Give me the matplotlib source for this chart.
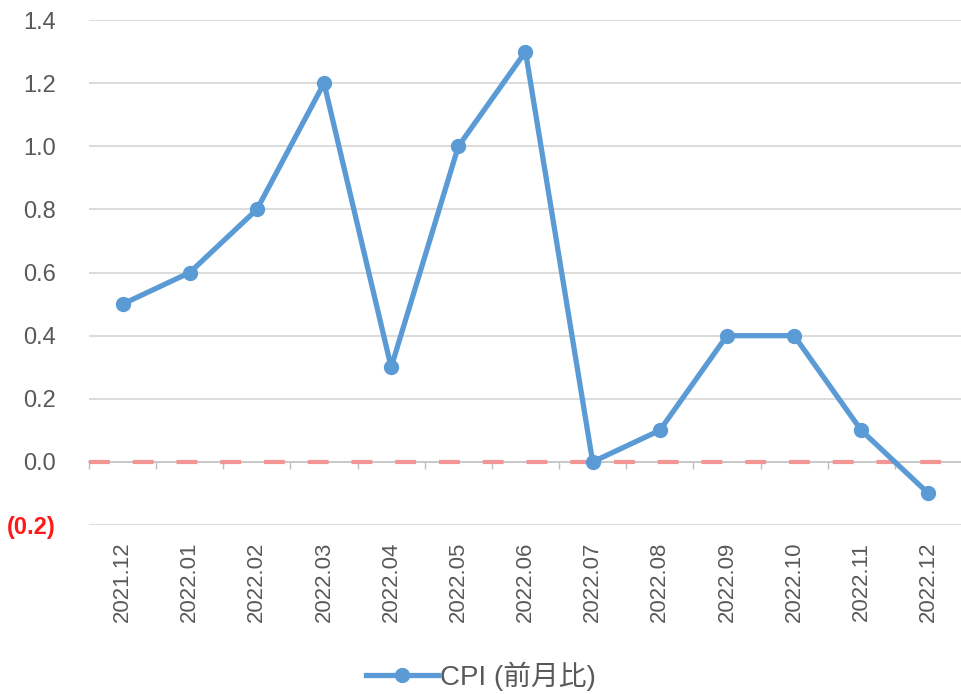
import matplotlib
matplotlib.use("Agg")
import matplotlib.pyplot as plt
from matplotlib.ticker import FixedLocator

plt.rcParams["font.family"] = ["Liberation Sans", "Noto Sans CJK JP", "DejaVu Sans"]

# Data
months = ["2021.12", "2022.01", "2022.02", "2022.03", "2022.04", "2022.05", "2022.06",
          "2022.07", "2022.08", "2022.09", "2022.10", "2022.11", "2022.12"]
cpi_mom = [0.5, 0.6, 0.8, 1.2, 0.3, 1.0, 1.3, 0.0, 0.1, 0.4, 0.4, 0.1, -0.1]
y_ticks = [-0.2, 0.0, 0.2, 0.4, 0.6, 0.8, 1.0, 1.2, 1.4]
series_label = "CPI (前月比)"

blue = "#5B9BD5"
grid_grey = "#D9D9D9"
text_grey = "#595959"

fig = plt.figure(figsize=(9.62, 6.94), dpi=100)
ax = fig.add_axes([0.0925, 0.2435, 0.9075, 0.7275])

x = list(range(len(months)))

# gridlines
for v in y_ticks:
    if v != 0.0:
        ax.axhline(v, color=grid_grey, lw=1.3, zorder=0)

# zero reference line (dashed red)
ax.axhline(0.0, color="#F39595", lw=3.0, ls=(0, (5, 5.5)), zorder=2)

ax.plot(x, cpi_mom, color=blue, lw=3.8, marker="o", markersize=10,
        markerfacecolor=blue, markeredgecolor=blue, label=series_label, zorder=3)

ax.set_xlim(-0.5, len(months) - 0.5)
ax.set_ylim(-0.2, 1.4)

for s in ax.spines.values():
    s.set_visible(False)

ax.set_yticks(y_ticks)
ylabels = []
for v in y_ticks:
    ylabels.append(f"({abs(v):.1f})" if v < 0 else f"{v:.1f}")
ax.set_yticklabels(ylabels)
ax.tick_params(axis="y", length=0, pad=24, labelsize=17, labelcolor=text_grey)
for lbl, v in zip(ax.get_yticklabels(), y_ticks):
    if v < 0:
        lbl.set_color("#FF1A1A")
        lbl.set_fontweight("bold")

ax.set_xticks(x)
ax.set_xticklabels(months, rotation=90)
ax.tick_params(axis="x", length=0, pad=12, labelsize=16, labelcolor=text_grey)

# category axis line at y=0 with boundary ticks
zero_frac = (0.0 - (-0.2)) / (1.4 - (-0.2))
sec = ax.secondary_xaxis(zero_frac)
sec.xaxis.set_major_locator(FixedLocator([i - 0.5 for i in range(len(months) + 1)]))
sec.set_xticklabels([])
sec.tick_params(axis="x", length=5, width=1, color="#BFBFBF")
sec.spines["bottom"].set_color("#BFBFBF")
sec.spines["bottom"].set_linewidth(1.2)
sec.set_zorder(1)

leg = fig.legend(loc="lower center", bbox_to_anchor=(0.5, -0.032), frameon=False,
                 fontsize=20, handlelength=2.6, handletextpad=0.05)
for t in leg.get_texts():
    t.set_color(text_grey)

fig.savefig("out.png", dpi=100)
